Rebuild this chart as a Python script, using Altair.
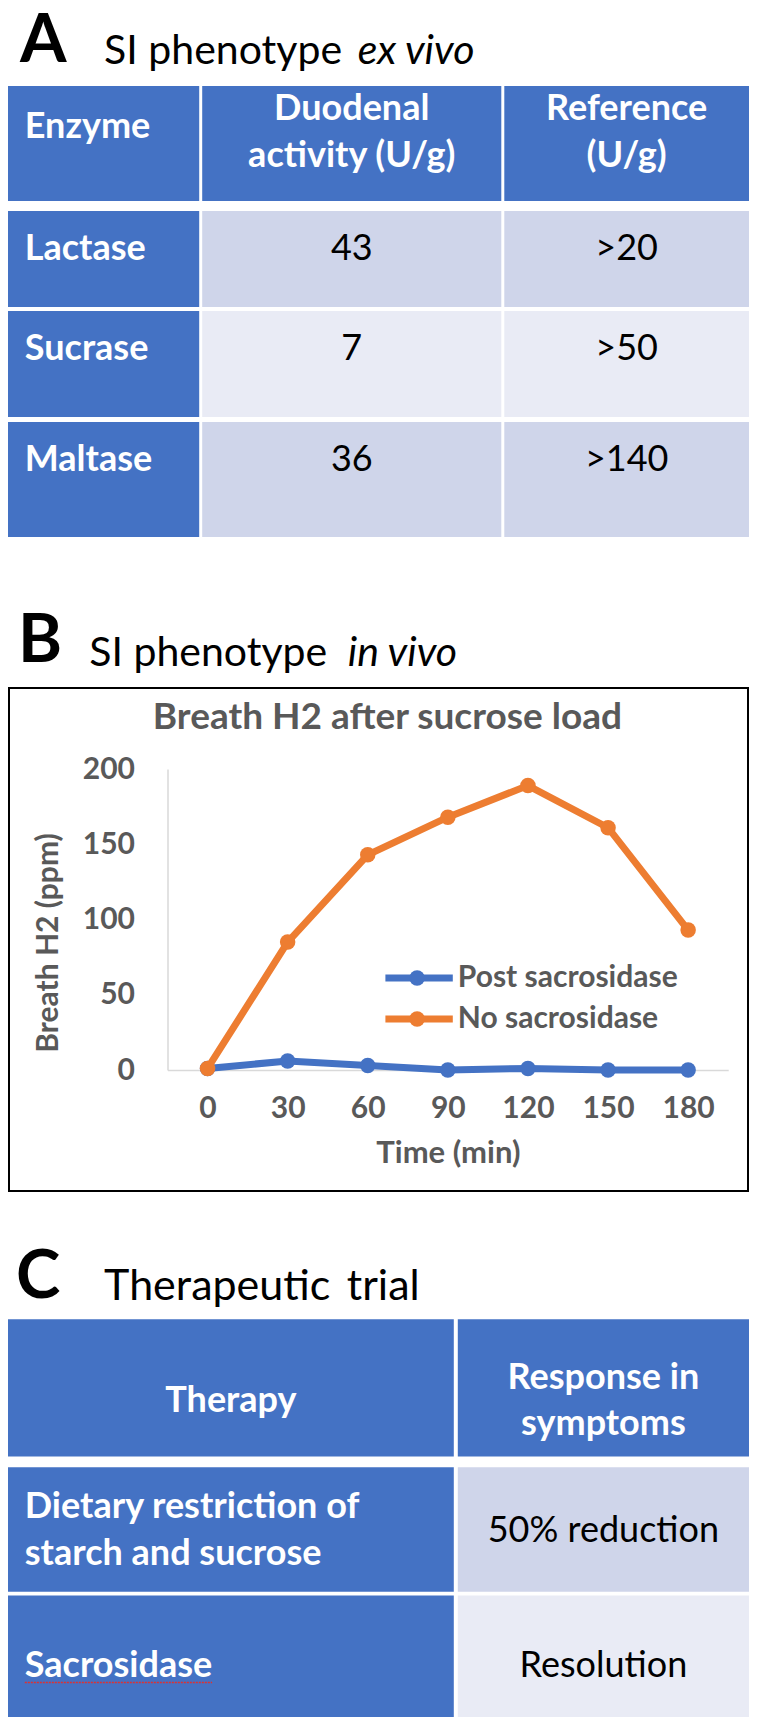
import altair as alt
import pandas as pd

# ---------------- data ----------------
panel_letters = ["A", "B", "C"]
titleA = ["SI phenotype", "ex vivo"]
titleB = ["SI phenotype", "in vivo"]
titleC = ["Therapeutic", "trial"]

headerA = [["Enzyme"], ["Duodenal", "activity (U/g)"], ["Reference", "(U/g)"]]
enzymes = ["Lactase", "Sucrase", "Maltase"]
duodenal_activity = ["43", "7", "36"]
reference_range = [">20", ">50", ">140"]

chart_title = "Breath H2 after sucrose load"
x_title = "Time (min)"
y_title = "Breath H2 (ppm)"
times = [0, 30, 60, 90, 120, 150, 180]
series_names = ["Post sacrosidase", "No sacrosidase"]
post_sacrosidase = [1, 6, 3, 0, 1, 0, 0]
no_sacrosidase = [1, 85, 143, 168, 189, 161, 93]
y_ticks = [0, 50, 100, 150, 200]

headerC = [["Therapy"], ["Response in", "symptoms"]]
therapies = [["Dietary restriction of", "starch and sucrose"], ["Sacrosidase"]]
responses = ["50% reduction", "Resolution"]

# ---------------- style / layout ----------------
FONT = "Lato"
HDR = "#4472C4"
BAND = ["#CFD5EA", "#E9EBF5"]
GRAY = "#595959"
AXIS_GRAY = "#D9D9D9"
COLORS = ["#4472C4", "#ED7D31"]
W = 741
TFS = 36      # table font size
LFS = 67      # panel letter font size
AFS = 30      # axis / legend font size
LW = 7        # series line width
MS = 240      # marker size


def cx(r):
    """reference-image x -> chart x"""
    return round((r - 5) * W / 748, 1)


TEXT_STYLES = {
    "hl": dict(align="left", baseline="middle", fontWeight="bold", color="white", fontSize=TFS),
    "hc": dict(align="center", baseline="middle", fontWeight="bold", color="white", fontSize=TFS),
    "bc": dict(align="center", baseline="middle", fontWeight="normal", color="black", fontSize=TFS),
    "letter": dict(align="left", baseline="alphabetic", fontWeight="bold", color="black", fontSize=LFS),
    "title": dict(align="left", baseline="alphabetic", fontWeight="normal", color="black"),
    "title_it": dict(align="left", baseline="alphabetic", fontWeight="normal", fontStyle="italic",
                     color="black"),
}


def text_layer(df, kind, size=None):
    props = dict(TEXT_STYLES[kind])
    if size is not None:
        props["fontSize"] = size
    return alt.Chart(df).mark_text(font=FONT, **props).encode(
        x=alt.X("x:Q", scale=None, axis=None),
        y=alt.Y("y:Q", scale=None, axis=None),
        text="text:N",
    )


def table_panel(height, col_edges, row_edges, fills, texts, title_size, extra=None):
    cells = []
    for r, (y0, y1) in enumerate(row_edges):
        for c, (x0, x1) in enumerate(col_edges):
            fill = HDR if (r == 0 or c == 0) else fills[r - 1]
            cells.append(dict(x0=x0, x1=x1, y0=y0, y1=y1, fill=fill))
    rect = alt.Chart(pd.DataFrame(cells)).mark_rect().encode(
        x=alt.X("x0:Q", scale=None, axis=None), x2="x1:Q",
        y=alt.Y("y0:Q", scale=None, axis=None), y2="y1:Q",
        fill=alt.Fill("fill:N", scale=None),
    )
    layers = [rect]
    tdf = pd.DataFrame(texts, columns=["text", "x", "y", "kind"])
    for kind in TEXT_STYLES:
        sub = tdf[tdf["kind"] == kind]
        if len(sub) == 0:
            continue
        size = title_size if kind.startswith("title") else None
        layers.append(text_layer(sub, kind, size))
    if extra is not None:
        layers += extra
    return alt.layer(*layers).properties(width=W, height=height)


one = alt.Data(values=[{}])

# ---------------- Panel A ----------------
colA = [(cx(5), cx(198)), (cx(201), cx(503)), (cx(506), cx(753))]
rowA = [(74, 189), (199, 295), (299, 405), (410, 525)]
midA1 = (colA[1][0] + colA[1][1]) / 2
midA2 = (colA[2][0] + colA[2][1]) / 2
textsA = [
    (panel_letters[0], cx(17), 50, "letter"),
    (titleA[0], cx(102), 52, "title"),
    (titleA[1], cx(358), 52, "title_it"),
    (headerA[0][0], cx(22), 115, "hl"),
    (headerA[1][0], midA1, 97, "hc"),
    (headerA[1][1], midA1, 144, "hc"),
    (headerA[2][0], midA2, 97, "hc"),
    (headerA[2][1], midA2, 144, "hc"),
]
for i, (e, d, rv) in enumerate(zip(enzymes, duodenal_activity, reference_range)):
    yy = rowA[i + 1][0] + 38
    textsA.append((e, cx(22), yy, "hl"))
    textsA.append((d, midA1, yy, "bc"))
    textsA.append((rv, midA2, yy, "bc"))

panelA = table_panel(530, colA, rowA, [BAND[0], BAND[1], BAND[0]], textsA, title_size=41)

# ---------------- Panel B (line chart) ----------------
HB = 650            # panel height (chart y 530 .. 1180)
B0 = 538            # reference y of panel top


def ry(r):
    return r - B0


PX0, PX1 = cx(166), cx(732)
PY0, PY1 = ry(765), ry(1066)

line_df = pd.DataFrame({
    "time": times * 2,
    "value": post_sacrosidase + no_sacrosidase,
    "series": [series_names[0]] * len(times) + [series_names[1]] * len(times),
})

x_enc = alt.X(
    "time:O",
    scale=alt.Scale(domain=times, range=[PX0, PX1]),
    axis=alt.Axis(
        labelAngle=0, ticks=False, domainColor=AXIS_GRAY, domainWidth=1.5,
        labelFont=FONT, labelFontSize=AFS, labelFontWeight="bold", labelColor=GRAY,
        labelPadding=23, title=x_title, titleFont=FONT, titleFontSize=31,
        titleFontWeight="bold", titleColor=GRAY, titlePadding=15,
        offset=-(HB - PY1),
    ),
)
y_enc = alt.Y(
    "value:Q",
    scale=alt.Scale(domain=[0, 200], nice=False, range=[PY1, PY0]),
    axis=alt.Axis(
        values=y_ticks, grid=False, ticks=False, domainColor=AXIS_GRAY, domainWidth=1.5,
        labelFont=FONT, labelFontSize=AFS, labelFontWeight="bold", labelColor=GRAY,
        labelPadding=33, title=None, offset=-PX0,
    ),
)

layersB = [
    alt.Chart(one).mark_rect(fillOpacity=0, stroke="black", strokeWidth=2).encode(
        x=alt.value(1), x2=alt.value(W - 1),
        y=alt.value(ry(684)), y2=alt.value(ry(1187))),
    alt.Chart(one).mark_text(font=FONT, **TEXT_STYLES["letter"]).encode(
        x=alt.value(cx(15)), y=alt.value(ry(658)), text=alt.value(panel_letters[1])),
    alt.Chart(one).mark_text(font=FONT, fontSize=41, **TEXT_STYLES["title"]).encode(
        x=alt.value(cx(87)), y=alt.value(ry(662)), text=alt.value(titleB[0])),
    alt.Chart(one).mark_text(font=FONT, fontSize=41, **TEXT_STYLES["title_it"]).encode(
        x=alt.value(cx(348)), y=alt.value(ry(662)), text=alt.value(titleB[1])),
    alt.Chart(one).mark_text(font=FONT, fontSize=37, fontWeight="bold", color=GRAY,
                             align="center", baseline="middle").encode(
        x=alt.value(cx(388)), y=alt.value(ry(714)), text=alt.value(chart_title)),
    alt.Chart(one).mark_text(font=FONT, fontSize=30, fontWeight="bold", color=GRAY,
                             align="center", baseline="middle", angle=270).encode(
        x=alt.value(cx(46)), y=alt.value(ry(939)), text=alt.value(y_title)),
]

legend_y = [974, 1015]
for i, name in enumerate(series_names):
    layersB.append(
        alt.Chart(one).mark_rule(color=COLORS[i], strokeWidth=LW).encode(
            x=alt.value(cx(386)), x2=alt.value(cx(454)), y=alt.value(ry(legend_y[i]))))
    layersB.append(
        alt.Chart(one).mark_point(filled=True, size=MS, opacity=1, color=COLORS[i]).encode(
            x=alt.value(cx(418)), y=alt.value(ry(legend_y[i]))))
    layersB.append(
        alt.Chart(one).mark_text(font=FONT, fontSize=AFS, fontWeight="bold", color=GRAY,
                                 align="left", baseline="middle").encode(
            x=alt.value(cx(459)), y=alt.value(ry(legend_y[i])), text=alt.value(name)))

for i, name in enumerate(series_names):
    base = alt.Chart(line_df).transform_filter(alt.datum.series == name)
    layersB.append(base.mark_line(color=COLORS[i], strokeWidth=LW).encode(x=x_enc, y=y_enc))
    layersB.append(base.mark_point(filled=True, size=MS, opacity=1, color=COLORS[i]).encode(
        x=x_enc, y=y_enc))

panelB = alt.layer(*layersB).properties(width=W, height=HB)

# ---------------- Panel C ----------------
C0 = 1188
HC = 525


def cyc(r):
    return round((r - C0) * HC / 532, 1)


colC = [(cx(5), cx(455)), (cx(459), cx(753))]
rowC = [(cyc(1317), cyc(1456)), (cyc(1467), cyc(1593)), (cyc(1597), cyc(1720))]
midC0 = (colC[0][0] + colC[0][1]) / 2
midC1 = (colC[1][0] + colC[1][1]) / 2
textsC = [
    (panel_letters[2], cx(13), cyc(1295), "letter"),
    (titleC[0], cx(102), cyc(1297), "title"),
    (titleC[1], cx(347), cyc(1297), "title"),
    (headerC[0][0], midC0, cyc(1400), "hc"),
    (headerC[1][0], midC1, cyc(1376), "hc"),
    (headerC[1][1], midC1, cyc(1423), "hc"),
    (therapies[0][0], cx(22), cyc(1507), "hl"),
    (therapies[0][1], cx(22), cyc(1555), "hl"),
    (responses[0], midC1, cyc(1531), "bc"),
    (therapies[1][0], cx(22), cyc(1668), "hl"),
    (responses[1], midC1, cyc(1668), "bc"),
]
spell = alt.Chart(one).mark_rule(color="#E03030", strokeWidth=1.5, strokeDash=[2, 1]).encode(
    x=alt.value(cx(22)), x2=alt.value(cx(211)), y=alt.value(cyc(1685)))
panelC = table_panel(HC, colC, rowC, [BAND[0], BAND[1]], textsC, title_size=43, extra=[spell])

chart = (
    alt.vconcat(panelA, panelB, panelC, spacing=0)
    .properties(padding=0)
    .configure_view(stroke=None)
)

chart.save("out.html", embed_options={"renderer": "svg", "actions": False})
